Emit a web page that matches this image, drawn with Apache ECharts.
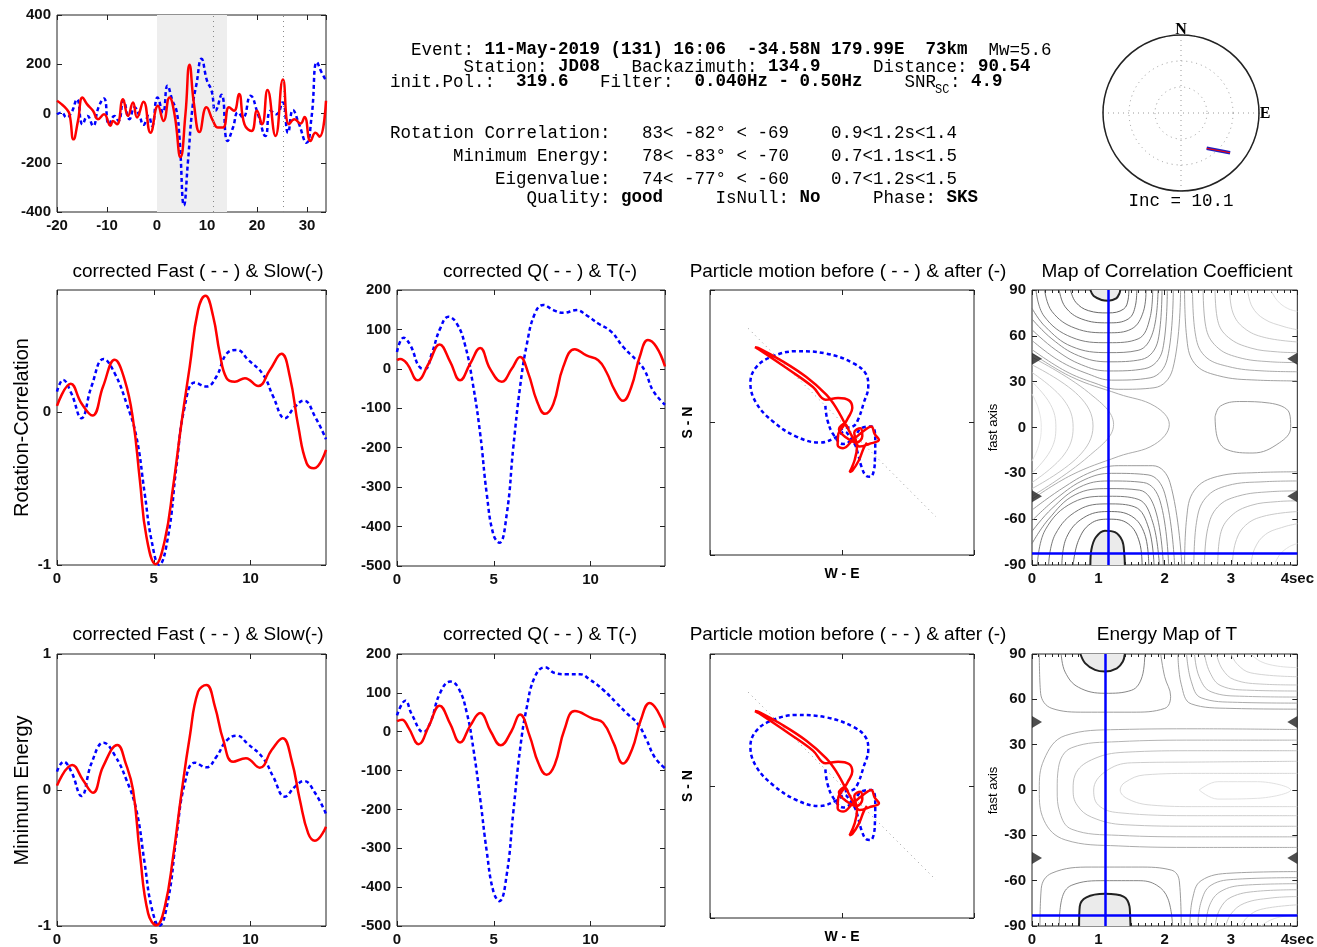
<!DOCTYPE html>
<html>
<head>
<meta charset="utf-8">
<script src="https://cdn.jsdelivr.net/npm/echarts@6/dist/echarts.min.js"></script>
<style>
  html, body { margin: 0; padding: 0; background: #fff; }
  #chart { width: 1317px; height: 947px; }
</style>
</head>
<body>
<div id="chart"></div>
<script>
// ---------- data ----------
// top-left seismogram (sec, amplitude)
var seisWindow = [0, 14];
var seisMarkers = [11.3, 25.2];
var seisRadial = [[-20,-3],[-19.1,4],[-18.1,-16],[-17.1,4],[-16,58],[-14.9,-44],[-13.9,-10],[-12.8,-50],[-11.7,25],[-10.6,61],[-9.6,-44],[-8.5,-10],[-7.7,-30],[-6.7,52],[-5.5,-23],[-4.5,25],[-3.5,-10],[-2.7,-46],[-1.7,-10],[-1,-50],[0.1,65],[1.2,4],[2.1,113],[3.1,52],[3.9,11],[4.5,-98],[5.4,-373],[6.2,-193],[7.1,25],[7.9,120],[8.9,222],[10,134],[10.9,93],[11.7,11],[12.9,76],[14.1,-112],[15.2,-57],[16.2,4],[17.2,-16],[18.7,72],[20.2,-3],[21.7,-91],[22.7,11],[23.9,-3],[25.1,45],[26.2,-78],[27.2,14],[28.3,-37],[29.9,-119],[30.9,-16],[32,208],[32.9,168],[33.8,134]];
var seisTransverse = [[-20,52],[-19.1,38],[-18.1,18],[-17.5,-3],[-16.7,-105],[-15.8,-30],[-14.9,65],[-14,38],[-12.8,11],[-11.8,-23],[-10.6,-3],[-9.3,-50],[-8.8,-30],[-8,-44],[-6.8,58],[-5.8,-10],[-4.8,45],[-4,-16],[-2.7,48],[-1.3,-78],[0.2,31],[1.3,-30],[2.5,65],[3.5,-3],[4.7,-177],[5.7,0],[6.5,198],[7.4,38],[8.5,-75],[9.9,25],[11.2,-30],[12.2,-57],[13.2,-57],[14.4,25],[15.4,11],[16.4,79],[17.5,-44],[18.9,-71],[20,11],[21,-44],[22.1,95],[23.7,-91],[25.2,138],[26.4,-44],[27.5,-23],[28.7,-41],[29.5,-14],[30.7,-112],[31.7,-78],[32.5,-94],[33.8,52]];

// stereonet: [radius (3 = horizon), azimuth deg]
var stereoSplit = [[1.68, 144], [2.43, 129]];

// corrected fast / slow, rotation-correlation
var rcFast = [[0,0.135],[0.31,0.212],[0.74,0.124],[1.26,-0.039],[1.78,0.168],[2.41,0.349],[2.98,0.255],[3.59,0.059],[4.1,-0.159],[4.53,-0.531],[4.88,-0.836],[5.28,-1.0],[5.74,-0.814],[6.17,-0.356],[6.6,0.037],[7.12,0.194],[7.72,0.168],[8.24,0.234],[8.76,0.382],[9.28,0.408],[9.88,0.343],[10.66,0.245],[11.17,0.103],[11.78,-0.039],[12.3,0.037],[12.76,0.076],[13.33,-0.028],[13.9,-0.177]];
var rcSlow = [[0,0.041],[0.71,0.186],[1.26,0.059],[1.83,-0.022],[2.38,0.168],[2.98,0.343],[3.5,0.21],[3.93,-0.05],[4.28,-0.443],[4.62,-0.814],[5.1,-0.995],[5.57,-0.838],[6,-0.487],[6.43,-0.072],[6.86,0.3],[7.29,0.67],[7.67,0.762],[8.07,0.627],[8.41,0.386],[8.76,0.223],[9.19,0.2],[9.71,0.223],[10.4,0.172],[11,0.277],[11.6,0.382],[12.03,0.234],[12.47,-0.094],[12.9,-0.334],[13.28,-0.367],[13.9,-0.247]];
// corrected fast / slow, minimum energy
var meFast = [[0,0.135],[0.34,0.208],[0.74,0.135],[1.26,-0.044],[1.78,0.196],[2.41,0.348],[2.98,0.257],[3.59,0.074],[4.1,-0.147],[4.53,-0.539],[4.88,-0.858],[5.28,-1.0],[5.74,-0.809],[6.17,-0.343],[6.6,0.049],[7.12,0.201],[7.72,0.167],[8.24,0.245],[8.76,0.363],[9.28,0.4],[9.88,0.336],[10.66,0.233],[11.17,0.098],[11.78,-0.049],[12.3,0.025],[12.76,0.066],[13.33,-0.02],[13.9,-0.176]];
var meSlow = [[0,0.032],[0.79,0.184],[1.34,0.074],[1.86,-0.02],[2.38,0.172],[3.12,0.331],[3.55,0.196],[3.93,0],[4.28,-0.466],[4.71,-0.907],[5.14,-0.995],[5.57,-0.858],[6,-0.49],[6.43,-0.025],[6.86,0.392],[7.29,0.723],[7.72,0.772],[8.16,0.613],[8.59,0.368],[9.1,0.208],[9.76,0.233],[10.48,0.164],[11.09,0.294],[11.66,0.38],[12.12,0.22],[12.55,-0.074],[12.98,-0.319],[13.33,-0.373],[13.9,-0.27]];

// corrected Q / T
var rcQ = [[0,43],[0.34,79],[0.69,60],[1.2,3],[1.46,0],[1.8,39],[2.23,102],[2.66,132],[3.09,115],[3.52,60],[3.92,-38],[4.3,-165],[4.64,-318],[4.98,-420],[5.29,-441],[5.67,-369],[6.01,-199],[6.36,-46],[6.7,60],[7.13,141],[7.56,162],[8.08,149],[8.59,142],[9.28,149],[9.79,136],[10.4,115],[11.08,94],[11.68,56],[12.37,22],[12.8,-4],[13.23,-55],[13.85,-91]];
var rcT = [[0,22],[0.17,25],[0.52,13],[1.07,-29],[1.63,13],[2.2,62],[2.75,18],[3.26,-29],[3.78,13],[4.3,53],[4.81,0],[5.41,-33],[5.93,0],[6.36,30],[6.79,-12],[7.22,-80],[7.65,-114],[8.08,-89],[8.59,5],[9.19,50],[9.79,34],[10.4,22],[10.82,-8],[11.25,-54],[11.68,-81],[12.11,-46],[12.54,30],[12.97,73],[13.4,56],[13.85,6]];
var meQ = [[0,42],[0.43,80],[0.77,44],[1.37,-1],[1.72,23],[2.23,100],[2.75,129],[3.18,112],[3.61,48],[3.95,-45],[4.3,-173],[4.64,-309],[4.98,-411],[5.29,-436],[5.67,-368],[6.01,-207],[6.36,-45],[6.7,61],[7.13,142],[7.65,166],[8.16,151],[8.76,148],[9.45,148],[9.97,134],[10.65,108],[11.34,74],[11.86,48],[12.46,19],[12.89,-20],[13.32,-66],[13.85,-94]];
var meT = [[0,27],[0.26,31],[0.6,10],[1.12,-32],[1.65,15],[2.2,67],[2.75,20],[3.26,-28],[3.78,15],[4.3,48],[4.85,0],[5.36,-35],[5.9,0],[6.36,44],[6.85,-10],[7.3,-80],[7.73,-111],[8.15,-85],[8.65,5],[9.19,53],[10.1,34],[10.65,23],[11.2,-30],[11.68,-82],[12.15,-45],[12.6,30],[13.06,74],[13.45,55],[13.85,10]];

// particle motion (W-E, S-N), normalised
var pmAxis = [[-0.71, 0.71], [0.71, -0.71]];
var pmBefore = [[-0.126,0.126],[-0.111,0.02],[-0.068,-0.086],[0.008,-0.162],[0.083,-0.126],[0.146,-0.043],[0.222,-0.03],[0.25,-0.08],[0.252,-0.16],[0.25,-0.26],[0.242,-0.36],[0.215,-0.41],[0.18,-0.4],[0.148,-0.335],[0.122,-0.24],[0.1,-0.17],[0.058,-0.106],[0.02,-0.068],[-0.043,-0.111],[-0.169,-0.152],[-0.346,-0.106],[-0.523,0.008],[-0.649,0.146],[-0.694,0.298],[-0.649,0.419],[-0.523,0.5],[-0.346,0.538],[-0.119,0.52],[0.083,0.449],[0.184,0.361],[0.199,0.273],[0.164,0.146],[0.121,0.02],[0.083,-0.03],[0.008,-0.043],[-0.023,-0.068]];
var pmAfter = [[0.033,-0.03],[-0.043,0.109],[-0.119,0.21],[-0.27,0.343],[-0.472,0.475],[-0.624,0.558],[-0.659,0.568],[-0.629,0.551],[-0.396,0.394],[-0.22,0.268],[-0.124,0.172],[-0.03,0.184],[0.053,0.167],[0.078,0.109],[0.045,0.033],[0.008,-0.03],[-0.028,-0.086],[-0.033,-0.169],[0.008,-0.194],[0.083,-0.131],[0.159,-0.068],[0.222,-0.03],[0.247,-0.086],[0.28,-0.131],[0.205,-0.162],[0.134,-0.182],[0.088,-0.126],[0.053,-0.061],[0.02,-0.01],[-0.023,-0.051],[0.028,-0.111],[0.109,-0.152],[0.154,-0.101],[0.139,-0.043],[0.093,-0.076],[0.114,-0.182],[0.096,-0.283],[0.058,-0.374],[0.078,-0.364],[0.129,-0.283],[0.164,-0.194],[0.189,-0.152]];

// map results: [delay sec, fast axis deg]
var bestDt = [1.15, 1.1];
var bestPhi = [-82, -83];
var edgeMarks = [45, -45];

// contour lines of the correlation map: [level 0..1, points]
var corrBlobTop = [[0.88,90],[0.93,86],[1.05,83.5],[1.15,83],[1.27,84.5],[1.32,88],[1.33,90]];
var corrBlobBottom = [[0.88,-90],[0.895,-80],[0.96,-72],[1.1,-67.5],[1.25,-68.5],[1.36,-74],[1.39,-82],[1.4,-90]];
var corrContours = [
  [0.10, [[0.58,90],[0.66,82],[0.85,76.5],[1.15,75],[1.38,77.5],[1.45,84],[1.46,90]]],
  [0.15, [[0.41,90],[0.5,79],[0.75,71],[1.15,68.5],[1.45,71],[1.56,80],[1.58,90]]],
  [0.20, [[0.19,90],[0.3,76],[0.65,65],[1.15,62],[1.5,64.5],[1.68,76],[1.72,90]]],
  [0.25, [[0.06,90],[0.18,73],[0.6,59],[1.15,55.5],[1.6,58],[1.78,72],[1.82,90]]],
  [0.30, [[0,78],[0.2,66],[0.6,53],[1.15,49],[1.6,50.5],[1.82,62],[1.9,90]]],
  [0.35, [[0,71],[0.3,58],[0.7,47],[1.15,43],[1.65,44.5],[1.9,57],[1.96,90]]],
  [0.40, [[0,64],[0.35,51],[0.75,41],[1.15,37],[1.7,38.5],[1.97,51],[2.04,90]]],
  [0.45, [[0,57],[0.4,44],[0.85,35],[1.2,31],[1.78,32.5],[2.04,45],[2.13,90]]],
  [0.50, [[0,51],[0.5,37],[0.95,29],[1.3,25],[1.84,26],[2.12,38],[2.24,90]]],
  [0.10, [[0.62,-90],[0.7,-74],[0.88,-63],[1.15,-60],[1.45,-63],[1.62,-75],[1.66,-90]]],
  [0.15, [[0.45,-90],[0.52,-72],[0.78,-59],[1.15,-55],[1.5,-58],[1.7,-70],[1.76,-90]]],
  [0.20, [[0.25,-90],[0.35,-70],[0.7,-54],[1.15,-50],[1.55,-52],[1.76,-66],[1.84,-90]]],
  [0.25, [[0.08,-90],[0.2,-67],[0.62,-49],[1.15,-45],[1.6,-47],[1.82,-62],[1.92,-90]]],
  [0.30, [[0,-76],[0.25,-60],[0.65,-44],[1.15,-40],[1.62,-41],[1.86,-54],[1.98,-90]]],
  [0.35, [[0,-68],[0.3,-53],[0.72,-39],[1.15,-35],[1.68,-36],[1.93,-48],[2.06,-90]]],
  [0.40, [[0,-61],[0.38,-46],[0.8,-34],[1.2,-30],[1.75,-31],[2.0,-43],[2.15,-90]]],
  [0.45, [[0,-54],[0.45,-40],[0.9,-29],[1.3,-25],[1.82,-25],[2.08,-36],[2.26,-90]]],
  [0.95, [[0,22],[0.1,12],[0.14,0],[0.1,-12],[0,-22]]],
  [0.88, [[0,30],[0.28,15],[0.36,0],[0.28,-15],[0,-30]]],
  [0.80, [[0,36],[0.48,18],[0.62,0],[0.48,-18],[0,-36]]],
  [0.72, [[0,41],[0.7,21],[0.92,1],[0.7,-19],[0,-40]]],
  [0.65, [[0,46],[0.85,23],[1.23,2],[0.85,-19],[0,-45]]],
  [0.55, [[0,48.5],[0.6,33],[1.3,22],[1.85,14],[2.07,2],[1.85,-11],[1.3,-19],[0.6,-31],[0,-47]]],
  [0.45, [[2.76,7],[2.84,14],[3.13,17],[3.58,16],[3.88,9.5],[3.9,0],[3.73,-10],[3.33,-16.7],[2.94,-14.5],[2.79,-6],[2.76,7]]],
  [0.50, [[2.3,90],[2.33,60],[2.45,42],[2.8,34],[3.4,31],[4,30.5]]],
  [0.55, [[2.42,90],[2.46,62],[2.6,47],[2.95,40],[3.5,37],[4,36.5]]],
  [0.60, [[2.58,90],[2.62,66],[2.78,53],[3.1,46],[3.6,43],[4,42.5]]],
  [0.68, [[2.76,90],[2.8,70],[2.96,59],[3.3,52],[3.7,49.5],[4,49]]],
  [0.76, [[2.98,90],[3.03,75],[3.2,65],[3.5,59],[4,56]]],
  [0.84, [[3.25,90],[3.32,79],[3.5,71],[3.8,66],[4,64]]],
  [0.92, [[3.6,90],[3.7,83],[3.85,78],[4,76]]],
  [0.50, [[2.3,-90],[2.33,-60],[2.45,-41],[2.8,-32],[3.4,-29.5],[4,-29]]],
  [0.55, [[2.44,-90],[2.48,-62],[2.62,-46],[2.95,-38],[3.5,-35.5],[4,-35]]],
  [0.60, [[2.6,-90],[2.65,-66],[2.8,-52],[3.1,-45],[3.6,-42],[4,-41.5]]],
  [0.68, [[2.8,-90],[2.84,-70],[3.0,-58],[3.3,-51],[3.7,-48.5],[4,-48]]],
  [0.76, [[3.02,-90],[3.07,-75],[3.22,-64],[3.5,-58],[4,-55]]],
  [0.84, [[3.3,-90],[3.36,-79],[3.52,-70],[3.8,-65],[4,-63]]],
  [0.92, [[3.65,-90],[3.74,-83],[3.88,-78],[4,-76]]]
];

// contour lines of the energy map of T
var energyBlobTop = [[0.73,90],[0.8,84],[0.95,79.5],[1.1,78.4],[1.28,80.5],[1.37,85],[1.4,90]];
var energyBlobBottom = [[0.71,-90],[0.72,-77],[0.82,-71],[1.1,-68.7],[1.38,-70.5],[1.47,-77],[1.48,-84],[1.485,-90]];
var energyContours = [
  [0.30, [[0.44,90],[0.5,78],[0.7,68],[1.1,64],[1.5,66],[1.66,75],[1.7,90]]],
  [0.45, [[0.11,90],[0.13,64],[0.3,54],[0.8,51.5],[1.5,51.5],[2.0,54],[2.09,62],[2.0,75],[1.94,90]]],
  [0.30, [[0.41,-90],[0.45,-72],[0.6,-63],[1.1,-60],[1.6,-60],[1.88,-63],[2.05,-72],[2.12,-90]]],
  [0.45, [[0.12,-90],[0.14,-65],[0.3,-55],[0.9,-51],[1.6,-51],[2.1,-53],[2.22,-60],[2.25,-90]]],
  [0.50, [[2.2,90],[2.25,70],[2.4,57],[3,54],[4,53.5]]],
  [0.56, [[2.33,90],[2.4,72],[2.55,61],[3.1,58],[4,57.5]]],
  [0.62, [[2.45,90],[2.52,75],[2.7,65],[3.2,62],[4,61.5]]],
  [0.68, [[2.6,90],[2.68,78],[2.85,69],[3.3,66],[4,65.5]]],
  [0.75, [[2.78,90],[2.87,80],[3.05,73],[3.5,70],[4,69.5]]],
  [0.83, [[3.0,90],[3.1,83],[3.3,77.5],[4,75]]],
  [0.90, [[3.3,90],[3.45,85],[3.7,82],[4,81]]],
  [0.50, [[2.38,-90],[2.42,-72],[2.55,-60],[3,-55],[4,-54]]],
  [0.56, [[2.5,-90],[2.55,-74],[2.7,-63],[3.1,-59],[4,-58]]],
  [0.62, [[2.62,-90],[2.68,-76],[2.85,-67],[3.2,-63],[4,-62]]],
  [0.68, [[2.76,-90],[2.83,-79],[3.0,-71],[3.4,-67],[4,-66]]],
  [0.75, [[2.92,-90],[3.0,-82],[3.2,-75],[3.6,-71.5],[4,-70.5]]],
  [0.83, [[3.15,-90],[3.25,-84],[3.45,-79],[4,-76]]],
  [0.90, [[3.45,-90],[3.6,-86],[3.8,-83.5],[4,-82.5]]],
  [0.55, [[4,40],[2.5,40.5],[1.3,40],[0.5,36],[0.18,20],[0.11,0],[0.18,-20],[0.5,-33],[1.3,-37],[2.5,-38],[4,-38]]],
  [0.62, [[4,33],[2.5,33],[1.3,32],[0.6,28],[0.4,15],[0.38,0],[0.42,-15],[0.6,-26],[1.3,-30],[2.5,-31],[4,-31]]],
  [0.70, [[4,26],[2.5,26],[1.4,25],[0.9,20],[0.65,10],[0.62,0],[0.68,-10],[0.9,-18],[1.4,-23],[2.5,-24],[4,-24]]],
  [0.78, [[4,19],[2.5,18.5],[1.5,18],[1.1,12],[0.93,0],[1.0,-10],[1.3,-15],[2.5,-17],[4,-17]]],
  [0.86, [[4,11],[2.5,11],[1.7,10],[1.4,5],[1.33,0],[1.45,-6],[1.8,-10],[2.5,-11],[4,-11]]],
  [0.92, [[2.52,0],[2.8,5.5],[3.4,5.5],[3.9,0],[3.4,-5.5],[2.8,-6],[2.52,0]]]
];

// ---------- chart building ----------
var FONT = 'Liberation Sans', MONO = 'Liberation Mono';
var RED = '#ff0000', BLUE = '#0000ff';
var grids = [], xAxes = [], yAxes = [], series = [], graphics = [];

function axis(gi, o, pos, labels, minor) {
    return {
        gridIndex: gi, type: 'value', position: pos,
        min: o.min, max: o.max, interval: o.interval,
        axisLine: { show: false, onZero: false },
        splitLine: { show: false },
        axisTick: { show: true, inside: true, length: 5, lineStyle: { color: '#222' } },
        minorTick: { show: !!minor, splitNumber: 10, length: 3, lineStyle: { color: '#222' } },
        axisLabel: {
            show: labels, margin: 6, color: '#111', fontFamily: FONT, fontSize: 15, fontWeight: 'bold',
            showMaxLabel: o.hideMax ? false : null, formatter: o.fmt
        }
    };
}

function panel(rect, xo, yo, opts) {
    opts = opts || {};
    var gi = grids.length;
    grids.push({ left: rect[0], top: rect[1], width: rect[2], height: rect[3], show: true,
        borderColor: '#222', borderWidth: 1 });
    var ax = { xAxisIndex: xAxes.length, yAxisIndex: yAxes.length };
    xAxes.push(axis(gi, xo, 'bottom', !opts.noLabels, opts.minor));
    xAxes.push(axis(gi, xo, 'top', false, opts.minor));
    yAxes.push(axis(gi, yo, 'left', !opts.noLabels, false));
    yAxes.push(axis(gi, yo, 'right', false, false));
    return ax;
}

function line(ax, data, color, dashed, extra) {
    series.push(Object.assign({
        type: 'line', data: data, showSymbol: false, silent: true, z: 3,
        smooth: 0.45,
        lineStyle: { color: color, width: 2.5, type: dashed ? [4, 3] : 'solid' }
    }, ax, extra || {}));
}

function gray(l) {
    var g = Math.round(70 + l * 165);
    return 'rgb(' + g + ',' + g + ',' + g + ')';
}

function mapPanel(ax, blobTop, blobBottom, contours, k) {
    contours.forEach(function (c) {
        series.push(Object.assign({ type: 'line', data: c[1], smooth: 0.4, showSymbol: false, silent: true, z: 2,
            lineStyle: { color: gray(c[0]), width: 0.9 } }, ax));
    });
    [[blobTop, 'end'], [blobBottom, 'start']].forEach(function (b) {
        series.push(Object.assign({ type: 'line', data: b[0], smooth: 0.35, showSymbol: false, silent: true, z: 3,
            lineStyle: { color: '#222', width: 2 }, areaStyle: { color: '#ebebeb', opacity: 1, origin: b[1] } }, ax));
    });
    series.push(Object.assign({ type: 'line', data: [], z: 4, silent: true,
        markLine: { symbol: 'none', silent: true, animation: false, label: { show: false },
            lineStyle: { color: BLUE, width: 2.5, type: 'solid' },
            data: [{ xAxis: bestDt[k] }, { yAxis: bestPhi[k] }] } }, ax));
    series.push(Object.assign({ type: 'scatter', z: 5, silent: true, clip: false,
        data: edgeMarks.map(function (v) { return [0, v]; }),
        symbol: 'triangle', symbolSize: [12, 10], symbolRotate: -90, symbolOffset: [5, 0],
        itemStyle: { color: '#222' } }, ax));
    series.push(Object.assign({ type: 'scatter', z: 5, silent: true, clip: false,
        data: edgeMarks.map(function (v) { return [4, v]; }),
        symbol: 'triangle', symbolSize: [12, 10], symbolRotate: 90, symbolOffset: [-5, 0],
        itemStyle: { color: '#222' } }, ax));
}

function text(x, y, str, size, o) {
    o = o || {};
    graphics.push({
        type: 'text', x: x, y: y, rotation: o.rot || 0, silent: true, z: 10,
        style: {
            text: str, fill: '#000', fontFamily: o.family || FONT, fontSize: size,
            fontWeight: o.weight || 'normal', align: o.align || 'center', verticalAlign: 'middle',
            rich: o.rich
        }
    });
}

// seismogram
var sAx = panel([57, 15, 269, 197], { min: -20, max: 33.8, interval: 10, hideMax: true },
    { min: -400, max: 400, interval: 200 });
series.push(Object.assign({ type: 'line', data: [], z: 1, silent: true,
    markArea: { silent: true, itemStyle: { color: '#eeeeee' },
        data: [[{ xAxis: seisWindow[0] }, { xAxis: seisWindow[1] }]] },
    markLine: { symbol: 'none', silent: true, label: { show: false },
        lineStyle: { color: '#888', width: 1, type: [1, 4] },
        data: seisMarkers.map(function (v) { return { xAxis: v }; }) } }, sAx));
line(sAx, seisRadial, BLUE, true, { smooth: 0.5 });
line(sAx, seisTransverse, RED, false, { smooth: 0.5 });

// rows of panels
var rows = [
    { top: 290, h: 275, pmH: 265, fsY: { min: -1, max: 0.8, interval: 1, hideMax: true },
      fast: rcFast, slow: rcSlow, q: rcQ, t: rcT, label: 'Rotation-Correlation',
      blobs: [corrBlobTop, corrBlobBottom], contours: corrContours, mapTitle: 'Map of Correlation Coefficient', titleY: 272 },
    { top: 654, h: 273, pmH: 264, fsY: { min: -1, max: 1, interval: 1 },
      fast: meFast, slow: meSlow, q: meQ, t: meT, label: 'Minimum Energy',
      blobs: [energyBlobTop, energyBlobBottom], contours: energyContours, mapTitle: 'Energy Map of T', titleY: 635 }
];

rows.forEach(function (r, k) {
    var a1 = panel([57, r.top, 269, r.h], { min: 0, max: 13.9, interval: 5, hideMax: true }, r.fsY);
    line(a1, r.fast, BLUE, true);
    line(a1, r.slow, RED, false);

    var a2 = panel([397, r.top, 268, r.h + 1], { min: 0, max: 13.85, interval: 5, hideMax: true },
        { min: -500, max: 200, interval: 100 });
    line(a2, r.q, BLUE, true);
    line(a2, r.t, RED, false);

    var a3 = panel([710, r.top, 264, r.pmH], { min: -1, max: 1, interval: 1 }, { min: -1, max: 1, interval: 1 },
        { noLabels: true });
    series.push(Object.assign({ type: 'line', data: pmAxis, showSymbol: false, silent: true, z: 2,
        lineStyle: { color: '#999', width: 1, type: [1, 4] } }, a3));
    line(a3, pmBefore, BLUE, true, { smooth: 0.4 });
    line(a3, pmAfter, RED, false, { smooth: 0.4 });

    var a4 = panel([1032, r.top, 269, r.h], { min: 0, max: 4, interval: 1,
        fmt: function (v) { return v === 4 ? '4sec' : String(v); } },
        { min: -90, max: 90, interval: 30 }, { minor: true });
    mapPanel(a4, r.blobs[0], r.blobs[1], r.contours, k);

    var ty = r.titleY;
    text(198, ty, 'corrected Fast ( - - ) & Slow(-)', 19);
    text(540, ty, 'corrected Q( - - ) & T(-)', 19);
    text(848, ty, 'Particle motion before ( - - ) & after (-)', 19);
    text(1167, ty, r.mapTitle, 19);
    text(22, r.top + r.h / 2, r.label, 20, { rot: Math.PI / 2 });
    text(993, r.top + r.h / 2, 'fast axis', 13, { rot: Math.PI / 2 });
    text(688, r.top + r.pmH / 2, 'S - N', 14, { rot: Math.PI / 2, weight: 'bold' });
    text(842, r.top + r.pmH + 19, 'W - E', 14, { weight: 'bold' });
});

// header block (monospace, bold values)
var rich = { n: { fontFamily: MONO, fontSize: 17.5 }, b: { fontFamily: MONO, fontSize: 17.5, fontWeight: 'bold' } };
var headerLines = [
    [50, '{n|  Event: }{b|11-May-2019 (131) 16:06  -34.58N 179.99E  73km}{n|  Mw=5.6}'],
    [67, '{n|       Station: }{b|JD08}{n|   Backazimuth: }{b|134.9}{n|     Distance: }{b|90.54}'],
    [82, '{n|init.Pol.:  }{b|319.6}{n|   Filter:  }{b|0.040Hz - 0.50Hz}{n|    SNR}'],
    [133, '{n|Rotation Correlation:   83< -82° < -69    0.9<1.2s<1.4}'],
    [156, '{n|      Minimum Energy:   78< -83° < -70    0.7<1.1s<1.5}'],
    [179, '{n|          Eigenvalue:   74< -77° < -60    0.7<1.2s<1.5}'],
    [198, '{n|             Quality: }{b|good}{n|     IsNull: }{b|No}{n|     Phase: }{b|SKS}']
];
headerLines.forEach(function (h) {
    text(390, h[0], h[1], 17.5, { family: MONO, align: 'left', rich: rich });
});
text(935, 90, 'SC', 12, { family: MONO, align: 'left' });
text(950, 82, '{n|: }{b|4.9}', 17.5, { family: MONO, align: 'left', rich: rich });

// stereonet labels
text(1181, 30, 'N', 16, { family: 'Liberation Serif', weight: 'bold' });
text(1265, 114, 'E', 16, { family: 'Liberation Serif', weight: 'bold' });
text(1181, 201, 'Inc = 10.1', 17.5, { family: MONO });

series.push({ type: 'line', coordinateSystem: 'polar', polarIndex: 0, data: stereoSplit, showSymbol: false,
    silent: true, lineStyle: { color: '#2020c0', width: 3.5 } });
series.push({ type: 'line', coordinateSystem: 'polar', polarIndex: 0, data: stereoSplit, showSymbol: false,
    silent: true, lineStyle: { color: RED, width: 1 } });

var option = {
    animation: false,
    backgroundColor: '#fff',
    grid: grids,
    xAxis: xAxes,
    yAxis: yAxes,
    polar: { center: [1181, 113], radius: 78 },
    angleAxis: {
        polarIndex: 0, type: 'value', min: 0, max: 360, interval: 90, startAngle: 90, clockwise: true,
        axisLine: { show: true, lineStyle: { color: '#222', width: 1.5 } },
        axisTick: { show: false }, axisLabel: { show: false },
        splitLine: { show: true, lineStyle: { color: '#999', type: [1, 4] } }
    },
    radiusAxis: {
        polarIndex: 0, type: 'value', min: 0, max: 3, interval: 1,
        axisLine: { show: false }, axisTick: { show: false }, axisLabel: { show: false },
        splitLine: { show: true, lineStyle: { color: '#999', type: [1, 4] } }
    },
    graphic: graphics,
    series: series
};

var chart = echarts.init(document.getElementById('chart'), null, { renderer: 'canvas' });
chart.setOption(option);
</script>
</body>
</html>
